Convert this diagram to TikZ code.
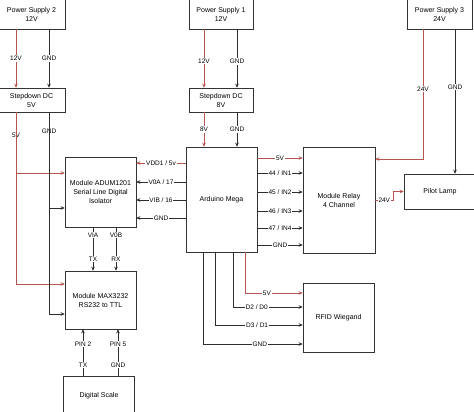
\documentclass[tikz,border=0pt]{standalone}
\usepackage{fontspec}
\setmainfont{Liberation Sans}
\usetikzlibrary{arrows.meta}
\definecolor{wirered}{RGB}{184,84,80}
\definecolor{wiregray}{RGB}{45,45,45}

\begin{document}
\begin{tikzpicture}[x=1pt,y=-1pt,
    box/.style={draw=black!80, line width=0.6pt, align=center, inner sep=0pt,
        font=\fontsize{7}{9}\selectfont},
    wire/.style={line width=0.6pt, -{Stealth[length=4pt,width=3.6pt]}},
    pwr/.style={wire, draw=wirered},
    gnd/.style={wire, draw=wiregray},
    lbl/.style={fill=white, inner sep=0.8pt, text=black,
        font=\fontsize{6.5}{7}\selectfont}]
    \useasboundingbox (0,0) rectangle (474,412);
    \clip (0,0) rectangle (474,412);

    % Power supplies
    \node[box, minimum width=67pt, minimum height=30pt] (ps2) at (31.5,14) {Power Supply 2\\12V};
    \node[box, minimum width=64pt, minimum height=30pt] (ps1) at (221,14) {Power Supply 1\\12V};
    \node[box, minimum width=65pt, minimum height=30pt] (ps3) at (439.5,14) {Power Supply 3\\24V};

    % Stepdown converters
    \node[box, minimum width=67pt, minimum height=24pt] (sd5) at (31.5,100) {Stepdown DC\\5V};
    \node[box, minimum width=64pt, minimum height=24pt] (sd8) at (221,100) {Stepdown DC\\8V};

    % Modules
    \node[box, minimum width=71pt, minimum height=70pt] (adum) at (100.5,192) {Module ADUM1201\\Serial Line Digital\\Isolator};
    \node[box, minimum width=71pt, minimum height=58pt] (max) at (100.5,300) {Module MAX3232\\RS232 to TTL};
    \node[box, minimum width=71pt, minimum height=40pt] (scale) at (99,396) {Digital Scale};
    \node[box, minimum width=71pt, minimum height=105pt] (mega) at (221.5,199.5) {Arduino Mega};
    \node[box, minimum width=72pt, minimum height=106pt] (relay) at (339,200) {Module Relay\\4 Channel};
    \node[box, minimum width=72pt, minimum height=35pt] (lamp) at (440,191.5) {Pilot Lamp};
    \node[box, minimum width=71pt, minimum height=69pt] (rfid) at (338.5,317.5) {RFID Wiegand};

    % Supply to stepdown
    \draw[pwr] (ps2.south -| 16,0) -- node[lbl]{12V} (sd5.north -| 16,0);
    \draw[gnd] (ps2.south -| 49,0) -- node[lbl]{GND} (sd5.north -| 49,0);
    \draw[pwr] (ps1.south -| 204,0) -- node[lbl,pos=.55]{12V} (sd8.north -| 204,0);
    \draw[gnd] (ps1.south -| 237,0) -- node[lbl,pos=.55]{GND} (sd8.north -| 237,0);

    % 5V rail to isolator and MAX3232
    \draw[pwr] (sd5.south -| 16,0) |- node[lbl,pos=.19]{5V} (adum.west |- 0,173);
    \draw[pwr] (sd5.south -| 16,0) |- (max.west |- 0,284);
    \draw[gnd] (sd5.south -| 49,0) |- node[lbl,pos=.1]{GND} (adum.west |- 0,208);
    \draw[gnd] (sd5.south -| 49,0) |- (max.west |- 0,314);

    % 8V to Arduino
    \draw[pwr] (sd8.south -| 204,0) -- node[lbl]{8V} (mega.north -| 204,0);
    \draw[gnd] (sd8.south -| 237,0) -- node[lbl]{GND} (mega.north -| 237,0);

    % 24V supply
    \draw[pwr] (ps3.south -| 423,0) |- node[lbl,pos=.23]{24V} (relay.east |- 0,159);
    \draw[gnd] (ps3.south -| 455,0) -- node[lbl,pos=.4]{GND} (lamp.north -| 455,0);
    \draw[pwr] (relay.east |- 0,200) -- node[lbl]{24V} ++(18,0) |- (lamp.west);

    % Arduino to relay
    \draw[pwr] (mega.east |- 0,158) -- node[lbl]{5V} (relay.west |- 0,158);
    \foreach \y/\t in {173/{44 / IN1}, 192/{45 / IN2}, 211/{46 / IN3}, 228/{47 / IN4}, 245/GND}
        \draw[gnd] (mega.east |- 0,\y) -- node[lbl]{\t} (relay.west |- 0,\y);

    % Arduino to isolator
    \draw[pwr] (mega.west |- 0,163) -- node[lbl]{VDD1 / 5v} (adum.east |- 0,163);
    \foreach \y/\t in {182/{V0A / 17}, 200/{VIB / 16}, 218/GND}
        \draw[gnd] (mega.west |- 0,\y) -- node[lbl]{\t} (adum.east |- 0,\y);

    % Isolator to MAX3232
    \foreach \x/\a/\b in {93/VIA/TX, 116/V0B/RX}
        \draw[gnd] (adum.south -| \x,0) -- node[lbl,pos=.18]{\a} node[lbl,pos=.73]{\b} (max.north -| \x,0);

    % Digital scale to MAX3232
    \foreach \x/\a/\b in {83/TX/PIN 2, 118/GND/PIN 5}
        \draw[gnd] (scale.north -| \x,0) -- node[lbl,pos=.23]{\a} node[lbl,pos=.68]{\b} (max.south -| \x,0);

    % Arduino to RFID
    \draw[pwr] (mega.south -| 245,0) |- node[lbl,pos=.69]{5V} (rfid.west |- 0,293);
    \foreach \x/\y/\t/\p in {233/307/{D2 / D0}/.67, 215/325/{D3 / D1}/.74, 203/344/GND/.785}
        \draw[gnd] (mega.south -| \x,0) |- node[lbl,pos=\p]{\t} (rfid.west |- 0,\y);
\end{tikzpicture}
\end{document}
